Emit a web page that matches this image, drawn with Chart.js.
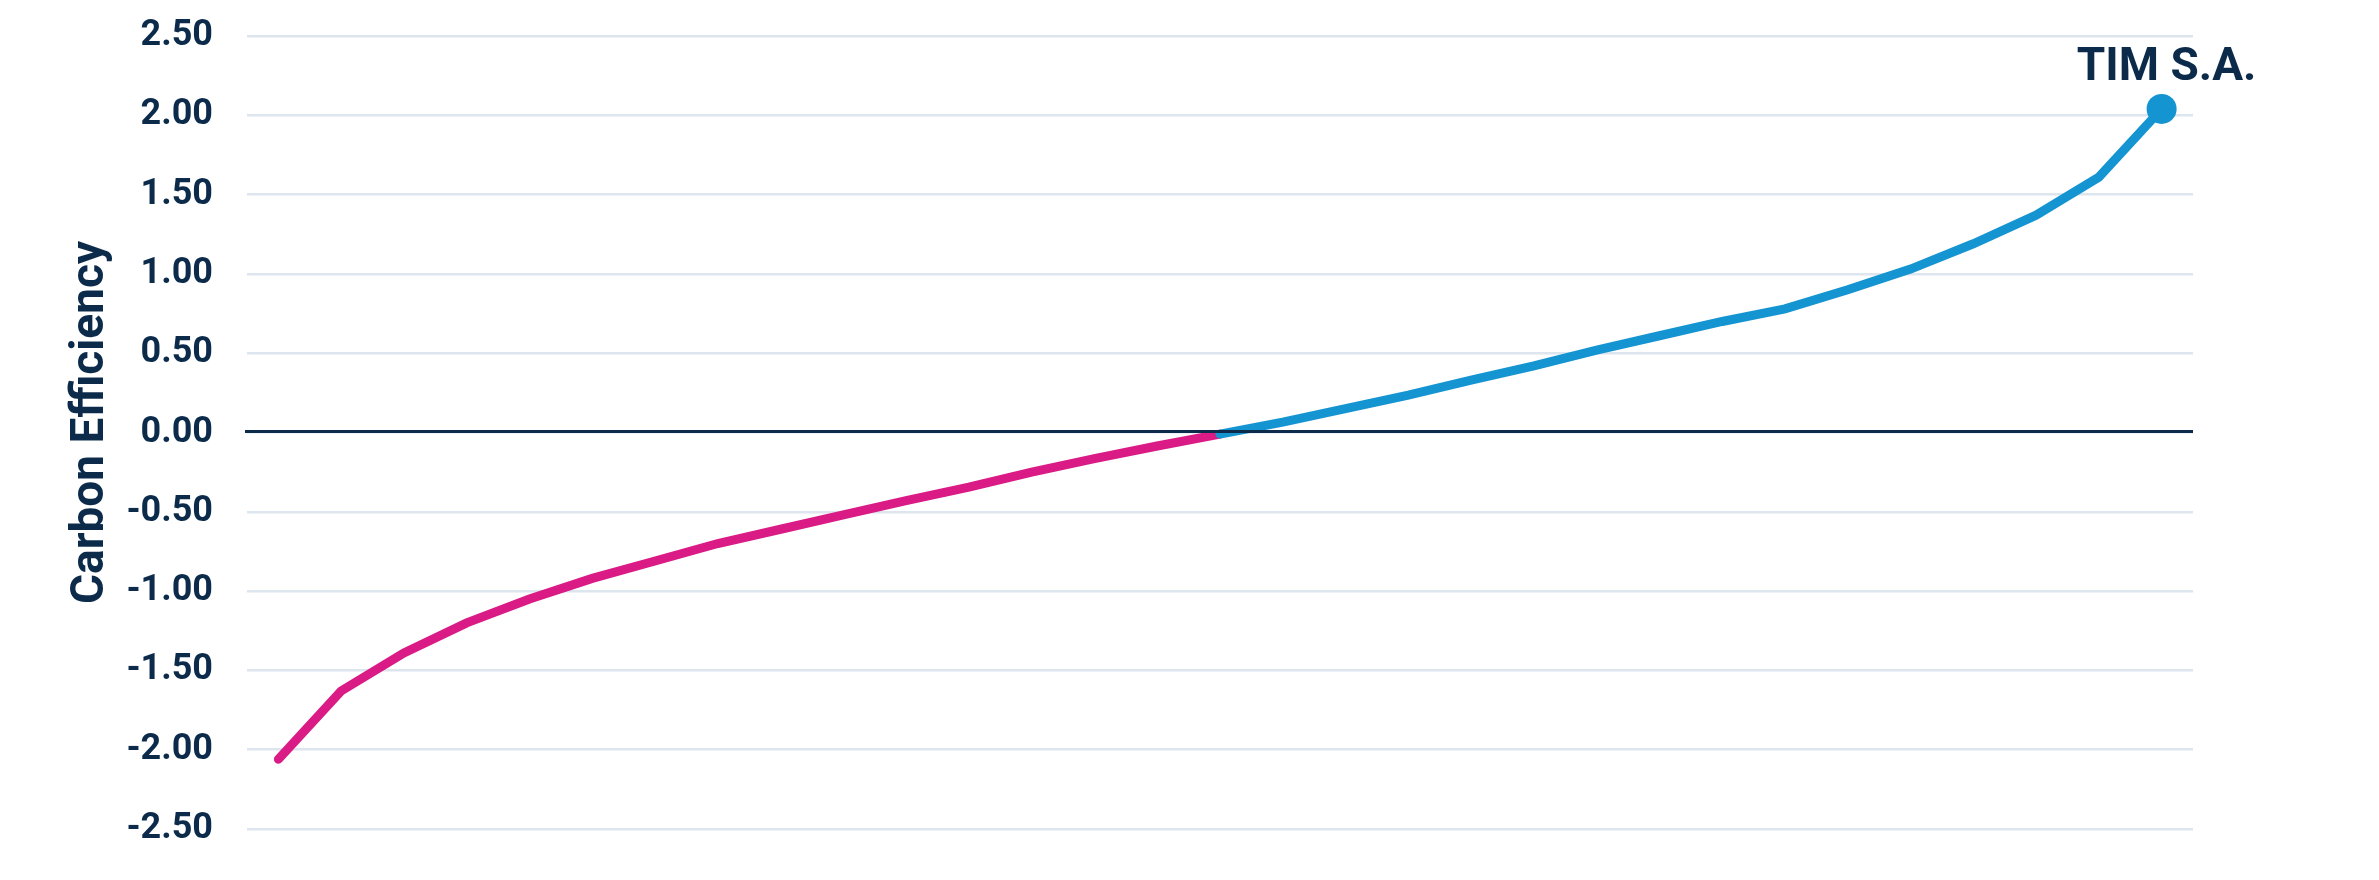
<!DOCTYPE html>
<html>
<head>
<meta charset="utf-8">
<script src="https://cdn.jsdelivr.net/npm/chart.js@4.4.1/dist/chart.umd.min.js"></script>
<style>
  html, body { margin: 0; padding: 0; background: #ffffff; }
  #wrap { width: 2379px; height: 880px; position: relative; }
</style>
</head>
<body>
<div id="wrap"><canvas id="chart"></canvas></div>
<script>
// ---- data ----
const categories = ['1','2','3','4','5','6','7','8','9','10','11','12','13','14','15','16',
                    '17','18','19','20','21','22','23','24','25','26','27','28','29','30','31'];
const carbonEfficiency = [-2.06, -1.63, -1.39, -1.20, -1.05, -0.92, -0.81, -0.70, -0.61, -0.52,
                          -0.43, -0.345, -0.25, -0.165, -0.085, -0.01, 0.065, 0.15, 0.235, 0.33,
                          0.42, 0.52, 0.61, 0.70, 0.78, 0.90, 1.03, 1.19, 1.37, 1.61, 2.04];
const yTickValues = [-2.5, -2.0, -1.5, -1.0, -0.5, 0, 0.5, 1.0, 1.5, 2.0, 2.5];
const highlightIndex = 30;
const highlightLabel = 'TIM S.A.';
const yAxisTitle = 'Carbon Efficiency';

// ---- styles ----
const NAVY = '#0c2b4b';
const PINK = '#da1a85';
const BLUE = '#1594d2';
const GRID = '#dde5ee';
const FONT = 'Roboto, "Noto Sans", sans-serif';

const overlayPlugin = {
  id: 'overlay',
  afterDatasetsDraw(chart) {
    const ctx = chart.ctx;
    const y = chart.scales.y;
    const area = chart.chartArea;
    // zero line on top of data
    const y0 = y.getPixelForValue(0) - 1;
    ctx.save();
    ctx.strokeStyle = NAVY;
    ctx.lineWidth = 3;
    ctx.beginPath();
    ctx.moveTo(area.left - 2, y0);
    ctx.lineTo(area.right, y0);
    ctx.stroke();
    ctx.restore();
    // highlight label above last point
    const pt = chart.getDatasetMeta(0).data[highlightIndex];
    ctx.save();
    ctx.fillStyle = NAVY;
    ctx.font = 'bold 46px ' + FONT;
    ctx.textAlign = 'center';
    ctx.textBaseline = 'alphabetic';
    ctx.fillText(highlightLabel, pt.x + 5, pt.y - 29);
    ctx.restore();
  },
  afterDraw(chart) {
    const ctx = chart.ctx;
    const area = chart.chartArea;
    ctx.save();
    ctx.fillStyle = NAVY;
    ctx.font = 'bold 46px ' + FONT;
    ctx.textAlign = 'center';
    ctx.textBaseline = 'middle';
    ctx.translate(91, (area.top + area.bottom) / 2 - 10);
    ctx.rotate(-Math.PI / 2);
    ctx.fillText(yAxisTitle, 0, 0);
    ctx.restore();
  }
};

new Chart(document.getElementById('chart'), {
  type: 'line',
  data: {
    labels: categories,
    datasets: [{
      data: carbonEfficiency,
      borderWidth: 9,
      borderColor: BLUE,
      borderCapStyle: 'round',
      borderJoinStyle: 'miter',
      tension: 0,
      fill: false,
      segment: {
        borderColor: c => (c.p1.parsed.y > 0 ? BLUE : PINK)
      },
      pointRadius: c => (c.dataIndex === highlightIndex ? 15 : 0),
      pointHoverRadius: c => (c.dataIndex === highlightIndex ? 15 : 0),
      pointBackgroundColor: BLUE,
      pointBorderWidth: 0,
      clip: false
    }]
  },
  options: {
    responsive: true,
    maintainAspectRatio: false,
    animation: false,
    events: [],
    layout: { padding: { left: 0, right: 186, top: 36, bottom: 51 } },
    plugins: {
      legend: { display: false },
      tooltip: { enabled: false },
      title: { display: false }
    },
    scales: {
      x: {
        type: 'category',
        offset: true,
        display: false,
        grid: { display: false }
      },
      y: {
        min: -2.5,
        max: 2.5,
        afterBuildTicks: s => { s.ticks = yTickValues.map(v => ({ value: v })); },
        afterFit: s => { s.width = 247; s.paddingTop = 0; s.paddingBottom = 0; },
        border: { display: false },
        grid: {
          color: GRID,
          lineWidth: 2.5,
          drawTicks: false
        },
        ticks: {
          padding: 34,
          color: NAVY,
          font: { family: FONT, size: 36, weight: 'bold' },
          callback: v => Number(v).toFixed(2)
        },
        title: { display: false }
      }
    }
  },
  plugins: [overlayPlugin]
});
</script>
</body>
</html>
